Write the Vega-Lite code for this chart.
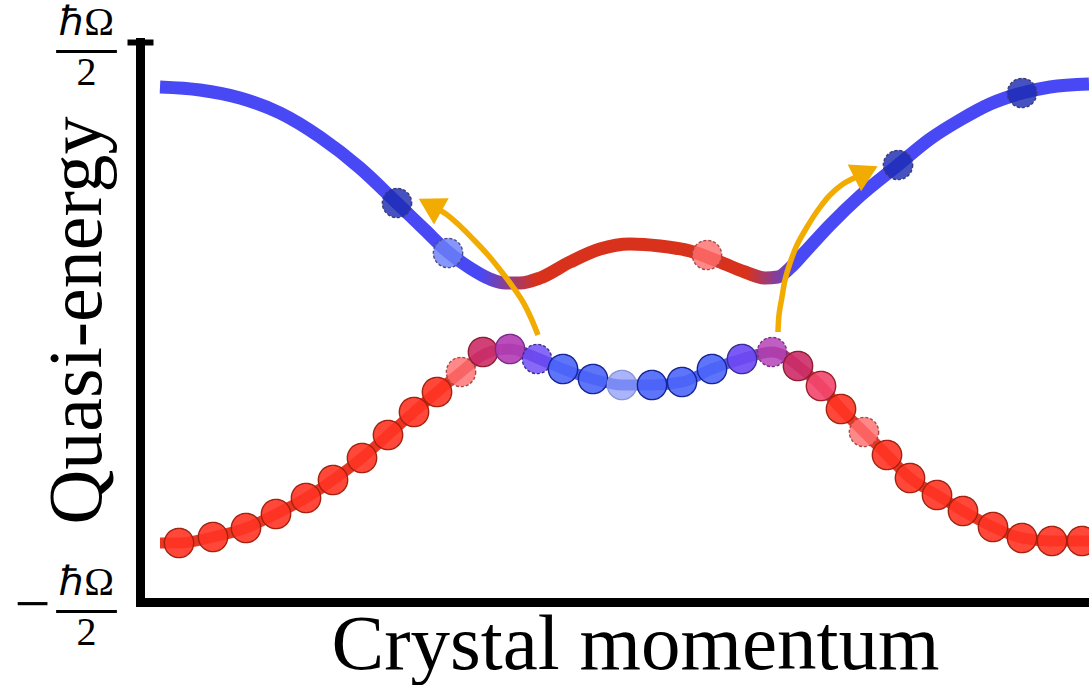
{
  "$schema": "https://vega.github.io/schema/vega-lite/v6.json",
  "width": 949,
  "height": 560,
  "autosize": {"type": "none"},
  "padding": {"left": 140, "top": 42, "right": 0, "bottom": 83},
  "background": "white",
  "config": {
    "view": {"stroke": null},
    "axisX": {
      "domain": true, "domainColor": "black", "domainWidth": 9, "domainCap": "square",
      "ticks": false, "labels": false, "grid": false,
      "titleFont": "Liberation Serif", "titleFontSize": 79, "titleFontWeight": "normal", "titleColor": "black",
      "titleAlign": "center", "titleBaseline": "alphabetic", "titleX": 495, "titleY": 66
    },
    "axisY": {
      "orient": "left", "grid": false, "labelFlush": false, "labelOverlap": false, "labelBound": false,
      "labelFont": "Liberation Serif", "labelColor": "black", "labelBaseline": "middle"
    }
  },
  "datasets": {
    "upper": [
      {"k":20,"e":235},{"k":60,"e":232},{"k":100,"e":224},{"k":140,"e":209},{"k":180,"e":185},{"k":220,"e":154},{"k":257,"e":119},{"k":285,"e":92},{"k":308,"e":70},{"k":330,"e":54},{"k":350,"e":43},{"k":365,"e":39},{"k":380,"e":39},{"k":400,"e":44},{"k":430,"e":60},{"k":460,"e":73},{"k":490,"e":78},{"k":520,"e":76},{"k":550,"e":71},{"k":580,"e":60},{"k":605,"e":50},{"k":625,"e":44},{"k":638,"e":45},{"k":650,"e":54},{"k":665,"e":70},{"k":690,"e":97},{"k":720,"e":126},{"k":758,"e":157},{"k":790,"e":183},{"k":820,"e":202},{"k":850,"e":218},{"k":882,"e":229},{"k":910,"e":235},{"k":949,"e":238}
    ],
    "lower": [
      {"k":20,"e":-221},{"k":39,"e":-221},{"k":73,"e":-215},{"k":106,"e":-206},{"k":136,"e":-192},{"k":166,"e":-176},{"k":193,"e":-158},{"k":222,"e":-136},{"k":248,"e":-113},{"k":274,"e":-90},{"k":297,"e":-70},{"k":321,"e":-50},{"k":343,"e":-33},{"k":357,"e":-28},{"k":370,"e":-27},{"k":397,"e":-36},{"k":423,"e":-47},{"k":453,"e":-57},{"k":482,"e":-63},{"k":512,"e":-63},{"k":542,"e":-60},{"k":572,"e":-47},{"k":602,"e":-37},{"k":632,"e":-30},{"k":645,"e":-34},{"k":658,"e":-44},{"k":681,"e":-64},{"k":701,"e":-87},{"k":724,"e":-110},{"k":747,"e":-133},{"k":770,"e":-156},{"k":797,"e":-173},{"k":823,"e":-189},{"k":853,"e":-205},{"k":882,"e":-216},{"k":912,"e":-219},{"k":949,"e":-219}
    ],
    "states": [
      {"k":39,"e":-221,"tone":"red","kind":"filled"},
      {"k":73,"e":-215,"tone":"red","kind":"filled"},
      {"k":106,"e":-206,"tone":"red","kind":"filled"},
      {"k":136,"e":-192,"tone":"red","kind":"filled"},
      {"k":166,"e":-176,"tone":"red","kind":"filled"},
      {"k":193,"e":-158,"tone":"red","kind":"filled"},
      {"k":222,"e":-136,"tone":"red","kind":"filled"},
      {"k":248,"e":-113,"tone":"red","kind":"filled"},
      {"k":274,"e":-90,"tone":"red","kind":"filled"},
      {"k":297,"e":-70,"tone":"red","kind":"filled"},
      {"k":321,"e":-50,"tone":"blush","kind":"empty"},
      {"k":343,"e":-30,"tone":"rose","kind":"filled"},
      {"k":370,"e":-27,"tone":"magenta","kind":"filled"},
      {"k":397,"e":-37,"tone":"violet","kind":"empty"},
      {"k":423,"e":-47,"tone":"blue","kind":"filled"},
      {"k":453,"e":-57,"tone":"blue","kind":"filled"},
      {"k":482,"e":-63,"tone":"faint","kind":"faint"},
      {"k":512,"e":-63,"tone":"blue","kind":"filled"},
      {"k":542,"e":-60,"tone":"blue","kind":"filled"},
      {"k":572,"e":-47,"tone":"blue","kind":"filled"},
      {"k":602,"e":-37,"tone":"violet","kind":"filled"},
      {"k":632,"e":-30,"tone":"magenta","kind":"empty"},
      {"k":658,"e":-44,"tone":"rose","kind":"filled"},
      {"k":681,"e":-64,"tone":"pink","kind":"filled"},
      {"k":701,"e":-87,"tone":"red","kind":"filled"},
      {"k":724,"e":-110,"tone":"blush","kind":"empty"},
      {"k":747,"e":-133,"tone":"red","kind":"filled"},
      {"k":770,"e":-156,"tone":"red","kind":"filled"},
      {"k":797,"e":-173,"tone":"red","kind":"filled"},
      {"k":823,"e":-189,"tone":"red","kind":"filled"},
      {"k":853,"e":-205,"tone":"red","kind":"filled"},
      {"k":882,"e":-216,"tone":"red","kind":"filled"},
      {"k":912,"e":-219,"tone":"red","kind":"filled"},
      {"k":942,"e":-219,"tone":"red","kind":"filled"},
      {"k":257,"e":119,"tone":"navy","kind":"empty"},
      {"k":308,"e":69,"tone":"periwinkle","kind":"empty"},
      {"k":567,"e":67,"tone":"blush","kind":"empty"},
      {"k":758,"e":157,"tone":"navy","kind":"empty"},
      {"k":882,"e":229,"tone":"navy","kind":"empty"}
    ],
    "arrows": [
      {"arrow":"A","step":1,"k":398,"e":-13},{"arrow":"A","step":2,"k":391,"e":4},{"arrow":"A","step":3,"k":383,"e":20},{"arrow":"A","step":4,"k":373,"e":35},{"arrow":"A","step":5,"k":361,"e":51},{"arrow":"A","step":6,"k":348,"e":67},{"arrow":"A","step":7,"k":334,"e":82},{"arrow":"A","step":8,"k":320,"e":96},{"arrow":"A","step":9,"k":306,"e":108},{"arrow":"A","step":10,"k":290,"e":117},
      {"arrow":"B","step":1,"k":638,"e":-10},{"arrow":"B","step":2,"k":639,"e":7},{"arrow":"B","step":3,"k":642,"e":25},{"arrow":"B","step":4,"k":645,"e":42},{"arrow":"B","step":5,"k":650,"e":59},{"arrow":"B","step":6,"k":657,"e":77},{"arrow":"B","step":7,"k":667,"e":95},{"arrow":"B","step":8,"k":678,"e":112},{"arrow":"B","step":9,"k":690,"e":127},{"arrow":"B","step":10,"k":703,"e":138},{"arrow":"B","step":11,"k":716,"e":145},{"arrow":"B","step":12,"k":726,"e":150}
    ]
  },
  "layer": [
    {
      "data": {"name": "upper"},
      "mark": {
        "type": "line", "strokeWidth": 13, "strokeCap": "butt", "interpolate": "monotone",
        "stroke": {
          "gradient": "linear", "x1": 0, "y1": 0, "x2": 1, "y2": 0,
          "stops": [
            {"offset": 0, "color": "#4848f5"},
            {"offset": 0.345, "color": "#4848f5"},
            {"offset": 0.405, "color": "#d8321c"},
            {"offset": 0.632, "color": "#d8321c"},
            {"offset": 0.685, "color": "#4848f5"},
            {"offset": 1, "color": "#4848f5"}
          ]
        }
      },
      "encoding": {
        "x": {"field": "k", "type": "quantitative", "scale": {"domain": [0, 949], "nice": false, "zero": false}, "title": "Crystal momentum"},
        "y": {
          "field": "e", "type": "quantitative",
          "scale": {"domain": [-280, 280], "nice": false, "zero": false},
          "axis": {
            "orient": "left", "values": [-280, 280],
            "domain": true, "domainColor": "black", "domainWidth": 9, "domainCap": "square",
            "ticks": true, "tickSize": 13, "tickWidth": 6, "tickColor": "black",
            "tickOpacity": {"condition": {"test": "datum.value > 0", "value": 1}, "value": 0},
            "labelExpr": "'ℏΩ'", "labelFontSize": 40, "labelAlign": "center", "labelPadding": 41, "labelOffset": -20,
            "title": "Quasi-energy", "titleFont": "Liberation Serif", "titleFontSize": 76, "titleFontWeight": "normal",
            "titleColor": "black", "titleAngle": -90, "titleAlign": "center", "titleBaseline": "alphabetic",
            "titleX": -40, "titleY": 278
          }
        }
      }
    },
    {
      "data": {"name": "lower"},
      "mark": {
        "type": "line", "strokeWidth": 11, "strokeCap": "butt", "interpolate": "monotone",
        "stroke": {
          "gradient": "linear", "x1": 0, "y1": 0, "x2": 1, "y2": 0,
          "stops": [
            {"offset": 0, "color": "#ea3522"},
            {"offset": 0.31, "color": "#ea3522"},
            {"offset": 0.43, "color": "#4c62f5"},
            {"offset": 0.597, "color": "#4c62f5"},
            {"offset": 0.722, "color": "#ea3522"},
            {"offset": 1, "color": "#ea3522"}
          ]
        }
      },
      "encoding": {
        "x": {"field": "k", "type": "quantitative", "title": "Crystal momentum"},
        "y": {
          "field": "e", "type": "quantitative",
          "axis": {"orient": "left", "values": [-280, 280], "domain": false, "ticks": false, "tickSize": 0, "labelExpr": "'2'", "labelFontSize": 40, "labelAlign": "center", "labelPadding": 54, "labelOffset": 30, "title": null}
        }
      }
    },
    {
      "data": {"name": "states"},
      "mark": {"type": "circle", "size": 860, "strokeWidth": 1.4, "opacity": 1},
      "encoding": {
        "x": {"field": "k", "type": "quantitative", "title": "Crystal momentum"},
        "y": {
          "field": "e", "type": "quantitative",
          "axis": {"orient": "left", "values": [-280, 280], "domain": false, "ticks": false, "tickSize": 0, "labelExpr": "'—'", "labelFontSize": 60, "labelAlign": "center", "labelPadding": 54, "labelOffset": 4, "title": null}
        },
        "fill": {
          "field": "tone", "type": "nominal", "legend": null,
          "scale": {
            "domain": ["red", "blush", "rose", "magenta", "violet", "blue", "faint", "pink", "navy", "periwinkle"],
            "range": ["#ff3424", "#ff6e6e", "#cc2c68", "#b23cb4", "#6c48f6", "#4c66f8", "#8c9af6", "#f2466e", "#1c2cb2", "#6b80f8"]
          }
        },
        "stroke": {
          "field": "tone", "type": "nominal", "legend": null,
          "scale": {
            "domain": ["red", "blush", "rose", "magenta", "violet", "blue", "faint", "pink", "navy", "periwinkle"],
            "range": ["#a3220f", "#a84848", "#8e1e2e", "#7a2a8a", "#3a2c98", "#142496", "#8894dc", "#9c1e26", "#3a3a7a", "#4a4c90"]
          }
        },
        "fillOpacity": {"field": "kind", "type": "nominal", "legend": null, "scale": {"domain": ["filled", "empty", "faint"], "range": [0.9, 0.74, 0.6]}},
        "strokeDash": {"field": "kind", "type": "nominal", "legend": null, "scale": {"domain": ["filled", "empty", "faint"], "range": [[1, 0], [3, 2], [1, 0]]}}
      }
    },
    {
      "data": {"name": "arrows"},
      "mark": {"type": "line", "strokeWidth": 5.5, "color": "#f2ab00", "interpolate": "catmull-rom", "strokeCap": "butt"},
      "encoding": {
        "x": {"field": "k", "type": "quantitative", "title": "Crystal momentum"},
        "y": {
          "field": "e", "type": "quantitative",
          "axis": {"orient": "left", "values": [-280, 280], "domain": false, "ticks": false, "tickSize": 0, "labelExpr": "datum.value < 0 ? '−' : ''", "labelFontSize": 64, "labelAlign": "right", "labelPadding": 90, "labelOffset": 3, "title": null}
        },
        "detail": {"field": "arrow"},
        "order": {"field": "step"}
      }
    },
    {
      "data": {"name": "arrows"},
      "transform": [
        {"window": [{"op": "lag", "field": "k", "as": "pk"}, {"op": "lag", "field": "e", "as": "pe"}, {"op": "row_number", "as": "rn"}, {"op": "count", "as": "n"}], "groupby": ["arrow"], "sort": [{"field": "step"}], "frame": [null, null]},
        {"filter": "datum.rn == datum.n"},
        {"calculate": "atan2(datum.k - datum.pk, datum.e - datum.pe) * 180 / PI", "as": "heading"}
      ],
      "mark": {"type": "point", "shape": "triangle-up", "filled": true, "size": 900, "color": "#f2ab00", "opacity": 1, "strokeWidth": 0},
      "encoding": {
        "x": {"field": "k", "type": "quantitative", "title": "Crystal momentum"},
        "y": {
          "field": "e", "type": "quantitative",
          "axis": {"orient": "left", "values": [280], "domain": false, "labels": false, "ticks": true, "tickSize": -13, "tickWidth": 6, "tickColor": "black", "title": null}
        },
        "angle": {"field": "heading", "type": "quantitative", "scale": null}
      }
    }
  ],
  "resolve": {"axis": {"y": "independent"}}
}
